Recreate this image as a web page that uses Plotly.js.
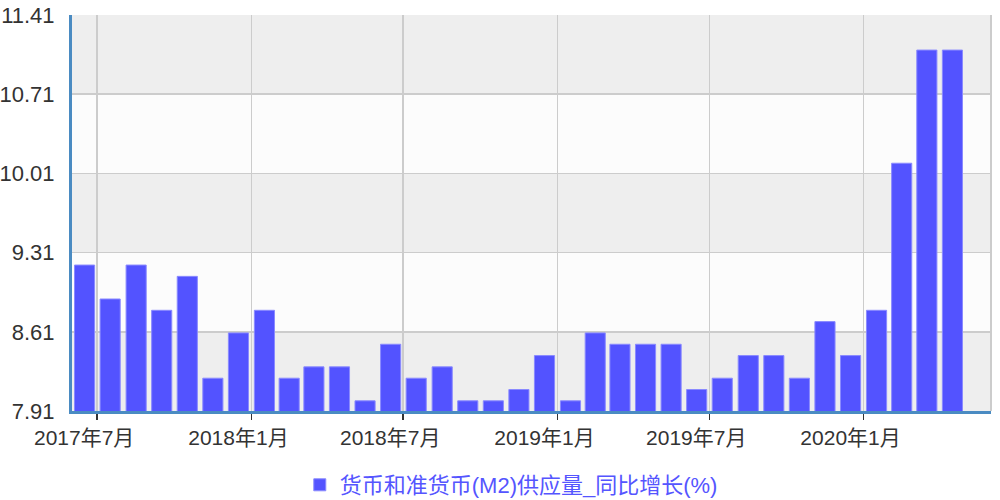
<!DOCTYPE html>
<html>
<head>
<meta charset="utf-8">
<script src="https://cdn.plot.ly/plotly-3.0.1.min.js"></script>
<style>
  html, body { margin: 0; padding: 0; background: #fff; }
  #chart { width: 1000px; height: 500px; }
</style>
</head>
<body>
<div id="chart"></div>
<script>
// month slots as drawn in the picture (each bar sits in the middle of its month)
const months = [
    '2017-06', '2017-07', '2017-08', '2017-09', '2017-10', '2017-11',
    '2017-12', '2018-01', '2018-02', '2018-03', '2018-04', '2018-05',
    '2018-06', '2018-07', '2018-08', '2018-09', '2018-10', '2018-11',
    '2018-12', '2019-01', '2019-02', '2019-03', '2019-04', '2019-05',
    '2019-06', '2019-07', '2019-08', '2019-09', '2019-10', '2019-11',
    '2019-12', '2020-01', '2020-02', '2020-03', '2020-04'
];
const m2Growth = [
    9.2, 8.9, 9.2, 8.8, 9.1, 8.2,
    8.6, 8.8, 8.2, 8.3, 8.3, 8.0,
    8.5, 8.2, 8.3, 8.0, 8.0, 8.1,
    8.4, 8.0, 8.6, 8.5, 8.5, 8.5,
    8.1, 8.2, 8.4, 8.4, 8.2, 8.7,
    8.4, 8.8, 10.1, 11.1, 11.1
];
const seriesName = '货币和准货币(M2)供应量_同比增长(%)';

const xTickVals = ['2017-07-01', '2018-01-01', '2018-07-01', '2019-01-01', '2019-07-01', '2020-01-01'];
const xTickText = ['2017年7月', '2018年1月', '2018年7月', '2019年1月', '2019年7月', '2020年1月'];
const yTickVals = [7.91, 8.61, 9.31, 10.01, 10.71, 11.41];
const xRange = ['2017-06-01', '2020-06-01'];

const BAR_DAYS = 24;
const FONT = '"Liberation Sans", Arial, "Noto Sans CJK SC", sans-serif';

// alternating grey bands between the y ticks
let bands = [];
for (let i = 0; i < yTickVals.length - 1; i++) {
    if (i % 2 === 0) {
        bands.push({
            type: 'rect', layer: 'below', xref: 'paper', yref: 'y',
            x0: 0, x1: 1, y0: yTickVals[i], y1: yTickVals[i + 1],
            fillcolor: '#eeeeee', line: {width: 0}
        });
    }
}
// right border of the plot area
bands.push({
    type: 'line', layer: 'above', xref: 'paper', yref: 'y',
    x0: 1, x1: 1, y0: yTickVals[0], y1: yTickVals[yTickVals.length - 1],
    line: {color: '#cccccc', width: 2}
});

let trace = {
    type: 'bar',
    x: months,
    y: m2Growth,
    xperiod: 'M1',
    xperiodalignment: 'middle',
    width: BAR_DAYS * 86400000,
    name: seriesName,
    marker: {color: '#5353ff', line: {color: '#8a8aff', width: 1}},
    hoverinfo: 'x+y'
};

let layout = {
    width: 1000, height: 500,
    margin: {l: 72, r: 9, t: 15, b: 89},
    paper_bgcolor: '#ffffff',
    plot_bgcolor: '#fcfcfc',
    font: {family: FONT, size: 21, color: '#333333'},
    bargap: 0,
    showlegend: true,
    legend: {
        orientation: 'h', xref: 'paper', x: 0.478, xanchor: 'center',
        yref: 'container', y: 0.03, yanchor: 'middle',
        font: {family: FONT, size: 22, color: '#5555ff'}
    },
    xaxis: {
        type: 'date',
        range: xRange,
        tickvals: xTickVals,
        ticktext: xTickText,
        ticks: 'outside', ticklen: 6, tickwidth: 1.5, tickcolor: '#333333',
        ticklabelshift: -13,
        showgrid: true, gridcolor: '#cccccc', gridwidth: 1.5,
        showline: true, linecolor: '#4a8bc2', linewidth: 3,
        zeroline: false, automargin: false,
        tickfont: {family: FONT, size: 21, color: '#333333'}
    },
    yaxis: {
        range: [yTickVals[0], yTickVals[yTickVals.length - 1]],
        tickvals: yTickVals,
        ticktext: yTickVals.map(v => v.toFixed(2)),
        ticks: '',
        ticklabelstandoff: 10,
        showgrid: true, gridcolor: '#cccccc', gridwidth: 1.5,
        showline: true, linecolor: '#4a8bc2', linewidth: 3,
        zeroline: false, automargin: false,
        tickfont: {family: FONT, size: 22, color: '#333333'}
    },
    shapes: bands
};

Plotly.newPlot('chart', [trace], layout, {displayModeBar: false, staticPlot: true});
</script>
</body>
</html>
